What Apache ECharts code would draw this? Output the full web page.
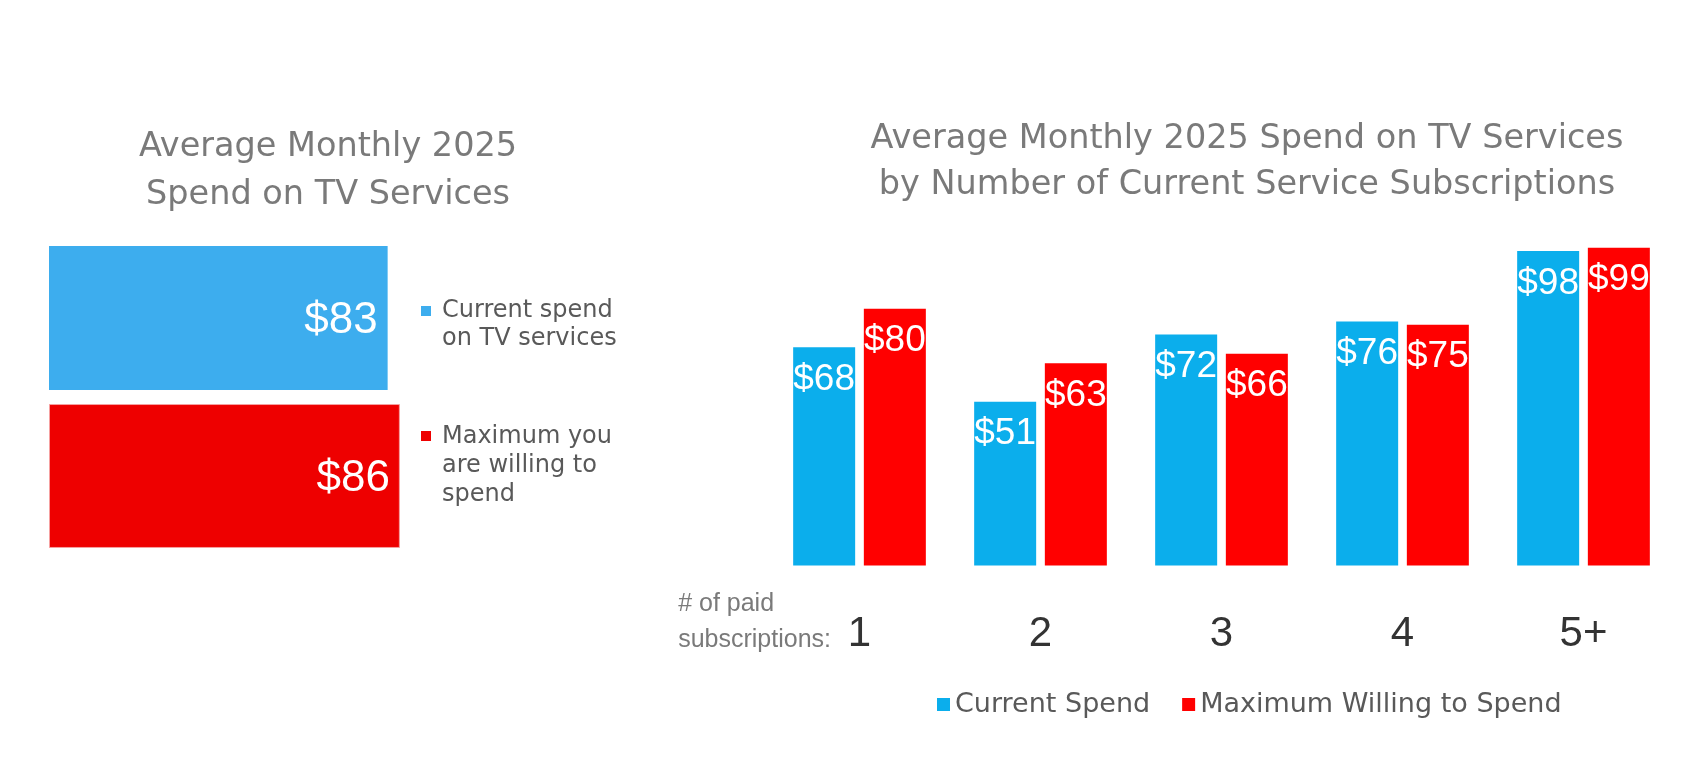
<!DOCTYPE html>
<html>
<head>
<meta charset="utf-8">
<script src="https://cdn.jsdelivr.net/npm/echarts@6/dist/echarts.min.js"></script>
<style>html,body{margin:0;padding:0;background:#fff;}#c{width:1702px;height:780px;}</style>
</head>
<body>
<div id="c"></div>
<script>
// ---- data ----
const overallCategories = ['Current spend on TV services', 'Maximum you are willing to spend'];
const overallCurrent = [83, '-'];
const overallMaximum = ['-', 86];

const subCategories = ['1', '2', '3', '4', '5+'];
const currentSpend = [68, 51, 72, 76, 98];
const maxWilling = [80, 63, 66, 75, 99];

const leftTitle = 'Average Monthly 2025\nSpend on TV Services';
const rightTitle = 'Average Monthly 2025 Spend on TV Services\nby Number of Current Service Subscriptions';

const BLUE_L = '#3DADEE', RED_L = '#EE0000';
const BLUE = '#0BAEEC', RED = '#FF0000';
const TITLE_FONT = "'DejaVu Sans', sans-serif";
const NUM_FONT = "'Liberation Sans Narrow', 'Liberation Sans', sans-serif";

const chart = echarts.init(document.getElementById('c'));
const labelFmt = p => '$' + p.value;

chart.setOption({
  animation: false,
  backgroundColor: '#fff',
  title: [
    { text: leftTitle, left: 323, top: 118, textAlign: 'center',
      textStyle: { fontFamily: TITLE_FONT, fontSize: 33.5, fontWeight: 'normal', color: '#7a7a7a', lineHeight: 48 } },
    { text: rightTitle, left: 1242, top: 111, textAlign: 'center',
      textStyle: { fontFamily: TITLE_FONT, fontSize: 33.5, fontWeight: 'normal', color: '#7a7a7a', lineHeight: 46 } }
  ],
  legend: {
    data: ['Current Spend', 'Maximum Willing to Spend'],
    left: 932, top: 686, itemWidth: 13, itemHeight: 13, itemGap: 32, icon: 'rect',
    textStyle: { fontFamily: TITLE_FONT, fontSize: 27, color: '#595959' }
  },
  grid: [
    { left: 49, top: 239, width: 408, height: 316 },
    { left: 769, top: 244.5, width: 905, height: 321 }
  ],
  xAxis: [
    { gridIndex: 0, type: 'value', min: 0, max: 100, show: false },
    { gridIndex: 1, type: 'category', data: subCategories,
      axisLine: { show: false }, axisTick: { show: false },
      axisLabel: { margin: 48, fontFamily: NUM_FONT, fontSize: 42, color: '#333' } }
  ],
  yAxis: [
    { gridIndex: 0, type: 'category', data: overallCategories, inverse: true, show: false },
    { gridIndex: 1, type: 'value', min: 0, max: 100, show: false }
  ],
  series: [
    { name: 'Current spend on TV services', type: 'bar', xAxisIndex: 0, yAxisIndex: 0,
      data: overallCurrent, barGap: '-100%', barCategoryGap: '8.9%',
      itemStyle: { color: BLUE_L },
      label: { show: true, position: 'insideRight', distance: 10, offset: [0, 3], formatter: labelFmt,
        color: '#fff', fontFamily: NUM_FONT, fontSize: 44 } },
    { name: 'Maximum you are willing to spend', type: 'bar', xAxisIndex: 0, yAxisIndex: 0,
      data: overallMaximum, barGap: '-100%', barCategoryGap: '8.9%',
      itemStyle: { color: RED_L, borderColor: '#f6a0a0', borderWidth: 1 },
      label: { show: true, position: 'insideRight', distance: 10, offset: [0, 3], formatter: labelFmt,
        color: '#fff', fontFamily: NUM_FONT, fontSize: 44 } },
    { name: 'Current Spend', type: 'bar', xAxisIndex: 1, yAxisIndex: 1,
      data: currentSpend, barWidth: 62, barGap: '14%',
      itemStyle: { color: BLUE },
      label: { show: true, position: 'insideTop', distance: 14, formatter: labelFmt,
        color: '#fff', fontFamily: NUM_FONT, fontSize: 37 } },
    { name: 'Maximum Willing to Spend', type: 'bar', xAxisIndex: 1, yAxisIndex: 1,
      data: maxWilling, barWidth: 62, barGap: '14%',
      itemStyle: { color: RED },
      label: { show: true, position: 'insideTop', distance: 14, formatter: labelFmt,
        color: '#fff', fontFamily: NUM_FONT, fontSize: 37 } }
  ],
  graphic: [
    { type: 'rect', left: 421, top: 306, shape: { width: 10, height: 10 }, style: { fill: BLUE_L } },
    { type: 'text', left: 442, top: 297, style: { text: 'Current spend\non TV services',
      font: "24px 'DejaVu Sans', sans-serif", fill: '#595959', lineHeight: 28 } },
    { type: 'rect', left: 421, top: 431, shape: { width: 10, height: 10 }, style: { fill: RED_L } },
    { type: 'text', left: 442, top: 422, style: { text: 'Maximum you\nare willing to\nspend',
      font: "24px 'DejaVu Sans', sans-serif", fill: '#595959', lineHeight: 29 } },
    { type: 'text', right: 1702 - 831, top: 586, style: { text: '# of paid\nsubscriptions:', align: 'right',
      font: "25px 'Liberation Sans', sans-serif", fill: '#7a7a7a', lineHeight: 36 } }
  ]
});
</script>
</body>
</html>
